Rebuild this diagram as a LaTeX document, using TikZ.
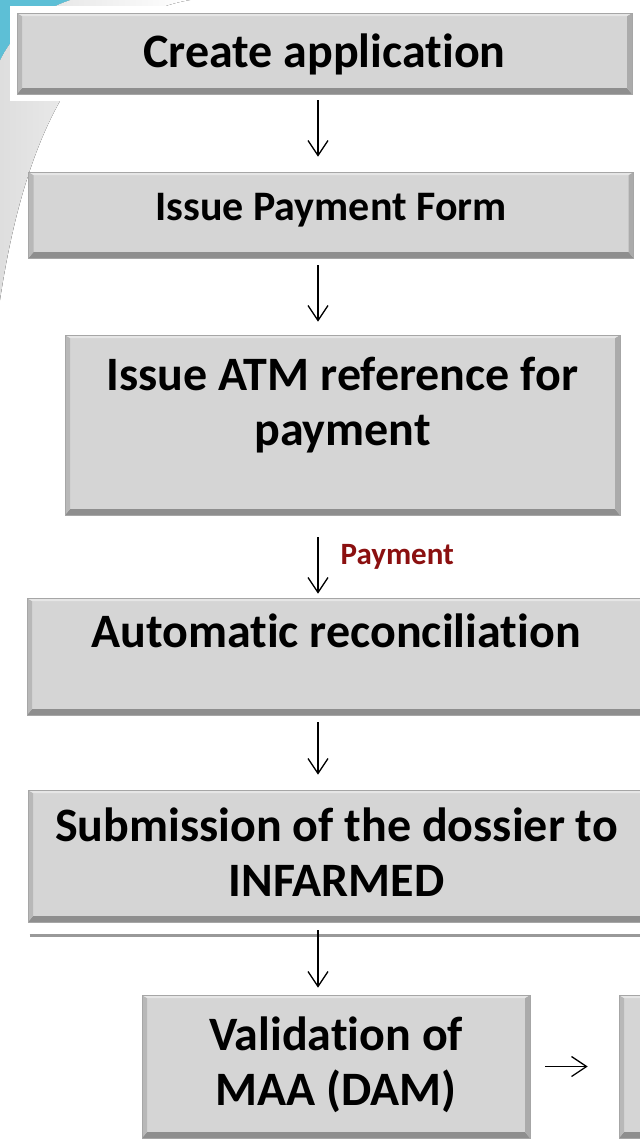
\documentclass[tikz,border=0pt]{standalone}
\usepackage{fontspec}
\setmainfont{Carlito}[Ligatures=NoCommon]
\usetikzlibrary{arrows.meta}

\definecolor{boxgray}{HTML}{D5D5D5}
\definecolor{bevdark}{HTML}{8E8E8E}
\definecolor{bevmid}{HTML}{ABABAB}
\definecolor{bevlight}{HTML}{E6E6E6}
\definecolor{swoosh}{HTML}{5DBFD6}
\definecolor{paycol}{HTML}{8B1010}

\tikzset{
  stepbox/.style={rectangle, fill=boxgray, draw=black!35, line width=0.6pt,
    inner sep=0pt, align=center, text height=34pt,
    font=\bfseries\fontsize{48}{55}\selectfont,
    path picture={
      \fill[bevdark] (path picture bounding box.south west) -- (path picture bounding box.south east)
        -- ([shift={(-5pt,6pt)}]path picture bounding box.south east)
        -- ([shift={(5pt,6pt)}]path picture bounding box.south west) -- cycle;
      \fill[bevmid] (path picture bounding box.north east) -- (path picture bounding box.south east)
        -- ([shift={(-5pt,6pt)}]path picture bounding box.south east)
        -- ([shift={(-5pt,-3pt)}]path picture bounding box.north east) -- cycle;
      \fill[black!28] (path picture bounding box.north west) -- (path picture bounding box.south west)
        -- ([shift={(5pt,6pt)}]path picture bounding box.south west)
        -- ([shift={(5pt,-3pt)}]path picture bounding box.north west) -- cycle;
      \fill[bevlight] (path picture bounding box.north west) -- (path picture bounding box.north east)
        -- ([shift={(-5pt,-3pt)}]path picture bounding box.north east)
        -- ([shift={(5pt,-3pt)}]path picture bounding box.north west) -- cycle;
    }},
  flow/.style={line width=1.3pt, -{Straight Barb[length=15pt,width=20pt]}},
  paytext/.style={text=paycol, font=\bfseries\fontsize{31}{36}\selectfont, inner sep=0pt},
}

\begin{document}
\begin{tikzpicture}[x=1pt, y=-1pt]
\useasboundingbox (0,0) rectangle (640,1141);
\clip (0,0) rectangle (640,1141);

% 左上角的背景
\fill[left color=black!13, right color=white]
  (70,0) -- (190,0) .. controls (100,15) and (30,100) .. (0,300)
  -- (0,60) .. controls (15,30) and (40,10) .. (70,0) -- cycle;
\fill[swoosh] (0,0) -- (70,0) .. controls (40,10) and (15,30) .. (0,60) -- cycle;

\coordinate (axis) at (318,0);

\node[stepbox, preaction={draw=white, line width=14pt}, minimum width=615pt, minimum height=81pt,
  text depth=7pt] (create) at (324.5,53.5) {Create application};
\node[stepbox, minimum width=605pt, minimum height=86pt, text height=32pt, text depth=22pt,
  font=\bfseries\fontsize{42}{50}\selectfont] (payform) at (331,215) {Issue Payment Form};
\node[stepbox, minimum width=555pt, minimum height=180pt, text height=60pt, text depth=20pt]
  (atmref) at (342.5,425) {Issue ATM reference for\\payment};
\node[stepbox, minimum width=618pt, minimum height=117pt, text depth=53pt]
  (recon) at (336,656.5) {Automatic reconciliation};
\node[stepbox, minimum width=617pt, minimum height=132pt, text height=100pt, text depth=20pt]
  (submit) at (336.5,856) {Submission of the dossier to\\INFARMED};
\node[stepbox, minimum width=388pt, minimum height=143pt, text height=97pt, text depth=20pt]
  (validate) at (336,1066.5) {Validation of\\MAA (DAM)};
% 右侧的框被裁掉一半
\node[stepbox, minimum width=300pt, minimum height=143pt] (next) at (769,1066.5) {};

\draw[black!40, line width=2.5pt] ([shift={(2pt,-13pt)}]submit.south west) -- ([yshift=-13pt]submit.south east);

\draw[flow, shorten <=6pt, shorten >=15pt] (axis |- create.south) -- (axis |- payform.north);
\draw[flow, shorten <=7pt, shorten >=13pt] (axis |- payform.south) -- (axis |- atmref.north);
\draw[flow, shorten <=22pt, shorten >=4pt] (axis |- atmref.south)
  -- node[paytext, pos=0.5, anchor=west, xshift=22pt] (pay) {Payment} (axis |- recon.north);
\draw[flow, shorten <=7pt, shorten >=15pt] (axis |- recon.south) -- (axis |- submit.north);
\draw[flow, shorten <=8pt, shorten >=7pt] (axis |- submit.south) -- (axis |- validate.north);
\draw[flow, shorten <=15pt, shorten >=31pt] (validate.east) -- (validate.east -| next.west);
\end{tikzpicture}
\end{document}
